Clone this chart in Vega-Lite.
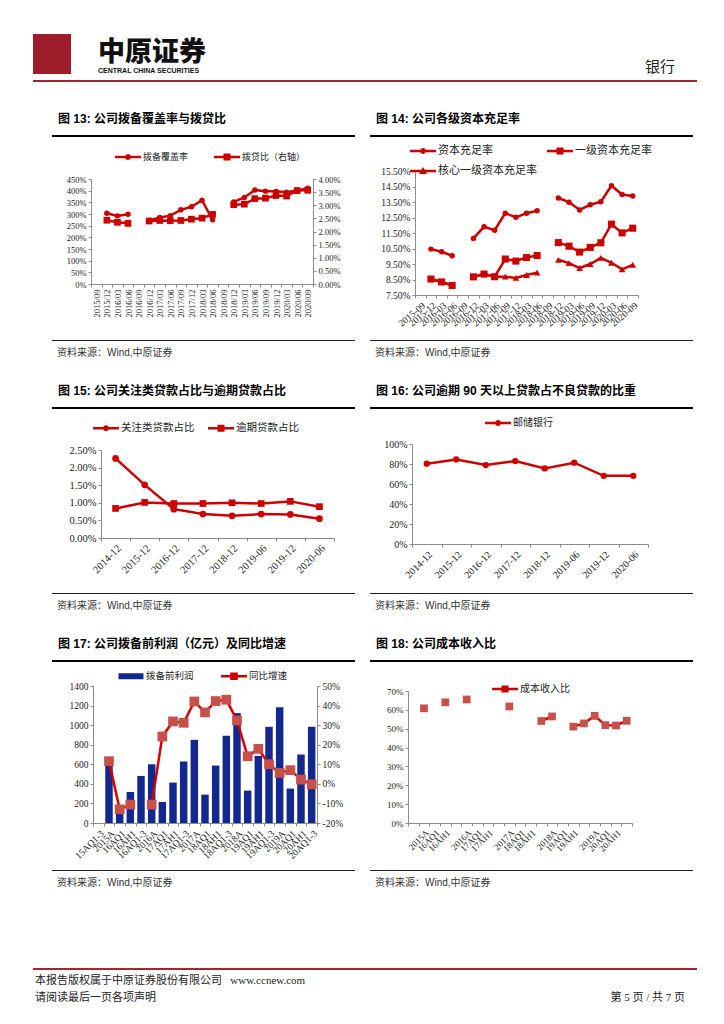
{
  "$schema": "https://vega.github.io/schema/vega-lite/v6.json",
  "padding": {"left": 33, "top": 28, "right": 0, "bottom": 0},
  "datasets": {
    "blank": [{}],
    "c13": [
      {"d": "2015/09", "拨备覆盖率": null, "拨贷比（右轴）": null},
      {"d": "2015/12", "拨备覆盖率": 303, "拨贷比（右轴）": 2.43},
      {"d": "2016/03", "拨备覆盖率": 292, "拨贷比（右轴）": 2.35},
      {"d": "2016/06", "拨备覆盖率": 299, "拨贷比（右轴）": 2.31},
      {"d": "2016/09", "拨备覆盖率": null, "拨贷比（右轴）": null},
      {"d": "2016/12", "拨备覆盖率": 272, "拨贷比（右轴）": 2.40},
      {"d": "2017/03", "拨备覆盖率": 285, "拨贷比（右轴）": 2.42},
      {"d": "2017/06", "拨备覆盖率": 293, "拨贷比（右轴）": 2.41},
      {"d": "2017/09", "拨备覆盖率": 318, "拨贷比（右轴）": 2.42},
      {"d": "2017/12", "拨备覆盖率": 331, "拨贷比（右轴）": 2.47},
      {"d": "2018/03", "拨备覆盖率": 359, "拨贷比（右轴）": 2.51},
      {"d": "2018/06", "拨备覆盖率": 275, "拨贷比（右轴）": 2.65},
      {"d": "2018/09", "拨备覆盖率": null, "拨贷比（右轴）": null},
      {"d": "2018/12", "拨备覆盖率": 352, "拨贷比（右轴）": 3.02},
      {"d": "2019/03", "拨备覆盖率": 371, "拨贷比（右轴）": 3.04},
      {"d": "2019/06", "拨备覆盖率": 403, "拨贷比（右轴）": 3.25},
      {"d": "2019/09", "拨备覆盖率": 398, "拨贷比（右轴）": 3.27},
      {"d": "2019/12", "拨备覆盖率": 397, "拨贷比（右轴）": 3.37},
      {"d": "2020/03", "拨备覆盖率": 393, "拨贷比（右轴）": 3.35},
      {"d": "2020/06", "拨备覆盖率": 401, "拨贷比（右轴）": 3.56},
      {"d": "2020/09", "拨备覆盖率": 410, "拨贷比（右轴）": 3.57}
    ],
    "c14": [
      {"d": "2015-09", "资本充足率": null, "一级资本充足率": null, "核心一级资本充足率": null},
      {"d": "2015-12", "资本充足率": 10.46, "一级资本充足率": 8.53, "核心一级资本充足率": 8.53},
      {"d": "2016-03", "资本充足率": 10.29, "一级资本充足率": 8.34, "核心一级资本充足率": 8.34},
      {"d": "2016-06", "资本充足率": 10.03, "一级资本充足率": 8.12, "核心一级资本充足率": 8.12},
      {"d": "2016-09", "资本充足率": null, "一级资本充足率": null, "核心一级资本充足率": null},
      {"d": "2016-12", "资本充足率": 11.15, "一级资本充足率": 8.67, "核心一级资本充足率": 8.67},
      {"d": "2017-03", "资本充足率": 11.90, "一级资本充足率": 8.85, "核心一级资本充足率": 8.85},
      {"d": "2017-06", "资本充足率": 11.68, "一级资本充足率": 8.68, "核心一级资本充足率": 8.68},
      {"d": "2017-09", "资本充足率": 12.78, "一级资本充足率": 9.82, "核心一级资本充足率": 8.68},
      {"d": "2017-12", "资本充足率": 12.51, "一级资本充足率": 9.69, "核心一级资本充足率": 8.60},
      {"d": "2018-03", "资本充足率": 12.78, "一级资本充足率": 9.92, "核心一级资本充足率": 8.79},
      {"d": "2018-06", "资本充足率": 12.93, "一级资本充足率": 10.05, "核心一级资本充足率": 8.94},
      {"d": "2018-09", "资本充足率": null, "一级资本充足率": null, "核心一级资本充足率": null},
      {"d": "2018-12", "资本充足率": 13.76, "一级资本充足率": 10.88, "核心一级资本充足率": 9.77},
      {"d": "2019-03", "资本充足率": 13.49, "一级资本充足率": 10.65, "核心一级资本充足率": 9.56},
      {"d": "2019-06", "资本充足率": 12.99, "一级资本充足率": 10.27, "核心一级资本充足率": 9.24},
      {"d": "2019-09", "资本充足率": 13.32, "一级资本充足率": 10.57, "核心一级资本充足率": 9.50},
      {"d": "2019-12", "资本充足率": 13.52, "一级资本充足率": 10.87, "核心一级资本充足率": 9.90},
      {"d": "2020-03", "资本充足率": 14.55, "一级资本充足率": 12.07, "核心一级资本充足率": 9.58},
      {"d": "2020-06", "资本充足率": 13.98, "一级资本充足率": 11.51, "核心一级资本充足率": 9.15},
      {"d": "2020-09", "资本充足率": 13.89, "一级资本充足率": 11.81, "核心一级资本充足率": 9.45}
    ],
    "c15": [
      {"d": "2014-12", "关注类贷款占比": 2.26, "逾期贷款占比": 0.84},
      {"d": "2015-12", "关注类贷款占比": 1.51, "逾期贷款占比": 1.01},
      {"d": "2016-12", "关注类贷款占比": 0.82, "逾期贷款占比": 0.98},
      {"d": "2017-12", "关注类贷款占比": 0.68, "逾期贷款占比": 0.98},
      {"d": "2018-12", "关注类贷款占比": 0.63, "逾期贷款占比": 1.00},
      {"d": "2019-06", "关注类贷款占比": 0.68, "逾期贷款占比": 0.98},
      {"d": "2019-12", "关注类贷款占比": 0.67, "逾期贷款占比": 1.04},
      {"d": "2020-06", "关注类贷款占比": 0.55, "逾期贷款占比": 0.89}
    ],
    "c16": [
      {"d": "2014-12", "邮储银行": 80.3},
      {"d": "2015-12", "邮储银行": 84.6},
      {"d": "2016-12", "邮储银行": 78.9},
      {"d": "2017-12", "邮储银行": 82.9},
      {"d": "2018-12", "邮储银行": 75.6},
      {"d": "2019-06", "邮储银行": 81.3},
      {"d": "2019-12", "邮储银行": 68.2},
      {"d": "2020-06", "邮储银行": 68.2}
    ],
    "c17": [
      {"d": "15AQ1-3", "拨备前利润": null, "同比增速": null},
      {"d": "2015A", "拨备前利润": 610, "同比增速": 11.6},
      {"d": "16AQ1", "拨备前利润": 150, "同比增速": -13.0},
      {"d": "16AH1", "拨备前利润": 317, "同比增速": -10.6},
      {"d": "16AQ1-3", "拨备前利润": 481, "同比增速": null},
      {"d": "2016A", "拨备前利润": 600, "同比增速": -10.6},
      {"d": "17AQ1", "拨备前利润": 215, "同比增速": 24.2},
      {"d": "17AH1", "拨备前利润": 413, "同比增速": 31.9},
      {"d": "17AQ1-3", "拨备前利润": 628, "同比增速": 31.2},
      {"d": "2017A", "拨备前利润": 850, "同比增速": 42.1},
      {"d": "18AQ1", "拨备前利润": 290, "同比增速": 36.5},
      {"d": "18AH1", "拨备前利润": 587, "同比增速": 42.3},
      {"d": "18AQ1-3", "拨备前利润": 891, "同比增速": 43.0},
      {"d": "2018A", "拨备前利润": 1123, "同比增速": 32.4},
      {"d": "19AQ1", "拨备前利润": 331, "同比增速": 14.1},
      {"d": "19AH1", "拨备前利润": 686, "同比增速": 17.9},
      {"d": "19AQ1-3", "拨备前利润": 983, "同比增速": 10.0},
      {"d": "2019A", "拨备前利润": 1184, "同比增速": 5.6},
      {"d": "20AQ1", "拨备前利润": 352, "同比增速": 7.0},
      {"d": "20AH1", "拨备前利润": 700, "同比增速": 2.2},
      {"d": "20AQ1-3", "拨备前利润": 983, "同比增速": -0.2}
    ],
    "c18": [
      {"d": "15AQ1-3", "成本收入比": null},
      {"d": "2015A", "成本收入比": 60.8},
      {"d": "16AQ1", "成本收入比": null},
      {"d": "16AH1", "成本收入比": 64.0},
      {"d": "16AQ1-3", "成本收入比": null},
      {"d": "2016A", "成本收入比": 65.5},
      {"d": "17AQ1", "成本收入比": null},
      {"d": "17AH1", "成本收入比": null},
      {"d": "17AQ1-3", "成本收入比": null},
      {"d": "2017A", "成本收入比": 61.8},
      {"d": "18AQ1", "成本收入比": null},
      {"d": "18AH1", "成本收入比": null},
      {"d": "18AQ1-3", "成本收入比": 54.1},
      {"d": "2018A", "成本收入比": 56.5},
      {"d": "19AQ1", "成本收入比": null},
      {"d": "19AH1", "成本收入比": 51.1},
      {"d": "19AQ1-3", "成本收入比": 52.8},
      {"d": "2019A", "成本收入比": 56.8},
      {"d": "20AQ1", "成本收入比": 51.9},
      {"d": "20AH1", "成本收入比": 51.7},
      {"d": "20AQ1-3", "成本收入比": 54.2}
    ]
  },
  "vconcat": [
    {
      "vconcat": [
        {
          "vconcat": [
            {
              "hconcat": [
                {"width": 38, "height": 40, "view": {"fill": "#9e1d2b", "stroke": null}, "data": {"name": "blank"}, "mark": {"type": "text", "text": ""}},
                {"width": 400, "height": 1, "view": {"stroke": null},
                 "title": {"text": "中原证券", "subtitle": "CENTRAL CHINA SECURITIES", "orient": "bottom", "anchor": "start", "dx": 17, "font": "Noto Sans CJK SC", "fontSize": 27, "fontWeight": 900, "color": "#111111", "subtitleFont": "Liberation Sans", "subtitleFontSize": 7, "subtitleFontWeight": "bold", "subtitleColor": "#111111", "subtitlePadding": 0, "offset": 0},
                 "data": {"name": "blank"}, "mark": {"type": "text", "text": ""}},
                {"width": 221, "height": 1, "view": {"stroke": null},
                 "title": {"text": "银行", "orient": "bottom", "anchor": "end", "dx": -37, "offset": 20, "font": "Noto Sans CJK SC", "fontSize": 15, "fontWeight": "normal", "color": "#222222"},
                 "data": {"name": "blank"}, "mark": {"type": "text", "text": ""}}
              ],
              "spacing": 10
            },
            {"width": 664, "height": 2, "view": {"fill": "#a3262b", "stroke": null}, "data": {"name": "blank"}, "mark": {"type": "text", "text": ""}}
          ],
          "spacing": 0
        },
        {
          "vconcat": [
            {"hconcat": [
              {"width": 303, "height": 2, "view": {"fill": "#000000", "stroke": null}, "title": {"text": "图 13: 公司拨备覆盖率与拨贷比", "dx": 6, "offset": 4}, "data": {"name": "blank"}, "mark": {"type": "text", "text": ""}},
              {"width": 323, "height": 2, "view": {"fill": "#000000", "stroke": null}, "title": {"text": "图 14: 公司各级资本充足率", "dx": 6, "offset": 4}, "data": {"name": "blank"}, "mark": {"type": "text", "text": ""}}
            ], "spacing": 15},
            {"hconcat": [
              {
                "width": 303, "height": 113,
                "data": {"name": "c13"},
                "encoding": {"x": {"field": "d", "type": "nominal", "scale": {"type": "band", "domain": ["2015/09","2015/12","2016/03","2016/06","2016/09","2016/12","2017/03","2017/06","2017/09","2017/12","2018/03","2018/06","2018/09","2018/12","2019/03","2019/06","2019/09","2019/12","2020/03","2020/06","2020/09"], "range": [39, 261], "paddingInner": 0, "paddingOuter": 0}, "axis": {"title": null, "labelAngle": -90, "tickBand": "extent", "labelFontSize": 8.5, "minExtent": 50, "labelOverlap": false}}},
                "layer": [
                  {"encoding": {"y": {"field": "拨备覆盖率", "type": "quantitative", "scale": {"domain": [0, 450], "nice": false, "range": [113, 8]}, "axis": {"title": null, "offset": -39, "values": [0,50,100,150,200,250,300,350,400,450], "labelExpr": "datum.value + '%'", "labelFontSize": 8.5, "labelOverlap": false}}},
                   "layer": [
                     {"mark": {"type": "line", "color": "#cc0000", "strokeWidth": 2.5, "invalid": "break-paths-filter-domains"}},
                     {"mark": {"type": "point", "shape": "circle", "filled": true, "opacity": 1, "color": "#cc0000", "size": 30}}
                   ]},
                  {"encoding": {"y": {"field": "拨贷比（右轴）", "type": "quantitative", "scale": {"domain": [0, 4], "nice": false, "range": [113, 8]}, "axis": {"title": null, "orient": "right", "offset": -42, "values": [0,0.5,1,1.5,2,2.5,3,3.5,4], "labelExpr": "format(datum.value, '.2f') + '%'", "labelFontSize": 8.5, "labelOverlap": false}}},
                   "layer": [
                     {"mark": {"type": "line", "color": "#cc0000", "strokeWidth": 2.5, "invalid": "break-paths-filter-domains"}},
                     {"mark": {"type": "point", "shape": "square", "filled": true, "opacity": 1, "color": "#cc0000", "size": 45}}
                   ]},
                  {"transform": [{"fold": ["拨备覆盖率", "拨贷比（右轴）"], "as": ["s", "v"]}],
                   "mark": {"type": "point", "filled": true, "opacity": 0},
                   "encoding": {
                     "shape": {"field": "s", "type": "nominal", "scale": {"domain": ["拨备覆盖率", "拨贷比（右轴）"], "range": ["M-1.3,-0.13H1.3V0.13H-1.3Z M0.3,0A0.3,0.3,0,1,1,-0.3,0A0.3,0.3,0,1,1,0.3,0Z", "M-1.3,-0.13H1.3V0.13H-1.3Z M-0.35,-0.35H0.35V0.35H-0.35Z"]}, "legend": {"title": null, "orient": "none", "legendX": 66, "legendY": -24, "direction": "horizontal", "symbolSize": 400, "symbolOpacity": 1, "symbolStrokeWidth": 0, "labelOffset": 5, "labelFontSize": 9, "columnPadding": 25, "padding": 0}},
                     "color": {"field": "s", "type": "nominal", "scale": {"domain": ["拨备覆盖率", "拨贷比（右轴）"], "range": ["#cc0000", "#cc0000"]}, "legend": {"title": null, "orient": "none", "legendX": 66, "legendY": -24, "direction": "horizontal", "symbolSize": 400, "symbolOpacity": 1, "symbolStrokeWidth": 0, "labelOffset": 5, "labelFontSize": 9, "columnPadding": 25, "padding": 0}}
                   }}
                ],
                "resolve": {"scale": {"y": "independent"}}
              },
              {
                "width": 323, "height": 124,
                "data": {"name": "c14"},
                "encoding": {
                  "x": {"field": "d", "type": "nominal", "scale": {"type": "band", "domain": ["2015-09","2015-12","2016-03","2016-06","2016-09","2016-12","2017-03","2017-06","2017-09","2017-12","2018-03","2018-06","2018-09","2018-12","2019-03","2019-06","2019-09","2019-12","2020-03","2020-06","2020-09"], "range": [45, 268], "paddingInner": 0, "paddingOuter": 0}, "axis": {"title": null, "labelAngle": -40, "tickBand": "extent", "labelFontSize": 9.5, "minExtent": 39, "labelOverlap": false}}
                },
                "layer": [
                  {"encoding": {"y": {"field": "核心一级资本充足率", "type": "quantitative", "scale": {"domain": [7.5, 15.5], "nice": false, "zero": false}, "axis": {"title": null, "offset": -45, "values": [7.5,8.5,9.5,10.5,11.5,12.5,13.5,14.5,15.5], "labelExpr": "format(datum.value, '.2f') + '%'", "labelFontSize": 9.5, "labelOverlap": false}}},
                   "layer": [
                     {"mark": {"type": "line", "color": "#cc0000", "strokeWidth": 2.5, "invalid": "break-paths-filter-domains"}},
                     {"mark": {"type": "point", "shape": "triangle-up", "filled": true, "opacity": 1, "color": "#cc0000", "size": 45}}
                   ]},
                  {"encoding": {"y": {"field": "一级资本充足率", "type": "quantitative", "axis": {"title": null, "offset": -45, "values": [7.5,8.5,9.5,10.5,11.5,12.5,13.5,14.5,15.5], "labelExpr": "format(datum.value, '.2f') + '%'", "labelFontSize": 9.5, "labelOverlap": false}}},
                   "layer": [
                     {"mark": {"type": "line", "color": "#cc0000", "strokeWidth": 2.5, "invalid": "break-paths-filter-domains"}},
                     {"mark": {"type": "point", "shape": "square", "filled": true, "opacity": 1, "color": "#cc0000", "size": 50}}
                   ]},
                  {"encoding": {"y": {"field": "资本充足率", "type": "quantitative", "axis": {"title": null, "offset": -45, "values": [7.5,8.5,9.5,10.5,11.5,12.5,13.5,14.5,15.5], "labelExpr": "format(datum.value, '.2f') + '%'", "labelFontSize": 9.5, "labelOverlap": false}}},
                   "layer": [
                     {"mark": {"type": "line", "color": "#cc0000", "strokeWidth": 2.5, "invalid": "break-paths-filter-domains"}},
                     {"mark": {"type": "point", "shape": "circle", "filled": true, "opacity": 1, "color": "#cc0000", "size": 30}}
                   ]},
                  {"transform": [{"fold": ["资本充足率", "一级资本充足率", "核心一级资本充足率"], "as": ["s", "v"]}],
                   "mark": {"type": "point", "filled": true, "opacity": 0},
                   "encoding": {
                     "y": {"value": 0},
                     "shape": {"field": "s", "type": "nominal", "scale": {"domain": ["资本充足率", "一级资本充足率", "核心一级资本充足率"], "range": ["M-1.3,-0.13H1.3V0.13H-1.3Z M0.3,0A0.3,0.3,0,1,1,-0.3,0A0.3,0.3,0,1,1,0.3,0Z", "M-1.3,-0.13H1.3V0.13H-1.3Z M-0.35,-0.35H0.35V0.35H-0.35Z", "M-1.3,-0.13H1.3V0.13H-1.3Z M0,-0.4L0.4,0.3L-0.4,0.3Z"]}, "legend": {"title": null, "orient": "none", "legendX": 43, "legendY": -30, "direction": "horizontal", "columns": 2, "symbolSize": 400, "symbolOpacity": 1, "symbolStrokeWidth": 0, "labelOffset": 5, "labelFontSize": 11, "columnPadding": 10, "rowPadding": 5, "padding": 0}},
                     "color": {"field": "s", "type": "nominal", "scale": {"domain": ["资本充足率", "一级资本充足率", "核心一级资本充足率"], "range": ["#cc0000", "#cc0000", "#cc0000"]}, "legend": {"title": null, "orient": "none", "legendX": 43, "legendY": -30, "direction": "horizontal", "columns": 2, "symbolSize": 400, "symbolOpacity": 1, "symbolStrokeWidth": 0, "labelOffset": 5, "labelFontSize": 11, "columnPadding": 10, "rowPadding": 5, "padding": 0}}
                   }}
                ]
              }
            ], "spacing": 15, "resolve": {"scale": {"color": "independent", "shape": "independent"}, "legend": {"color": "independent", "shape": "independent"}}},
            {"hconcat": [
              {"width": 303, "height": 1, "view": {"fill": "#222222", "stroke": null}, "title": {"text": "资料来源：Wind,中原证券", "orient": "bottom", "dx": 5, "offset": 2, "fontSize": 10, "fontWeight": "normal", "color": "#333333"}, "data": {"name": "blank"}, "mark": {"type": "text", "text": ""}},
              {"width": 323, "height": 1, "view": {"fill": "#222222", "stroke": null}, "title": {"text": "资料来源：Wind,中原证券", "orient": "bottom", "dx": 5, "offset": 2, "fontSize": 10, "fontWeight": "normal", "color": "#333333"}, "data": {"name": "blank"}, "mark": {"type": "text", "text": ""}}
            ], "spacing": 15}
          ],
          "spacing": 0,
          "resolve": {"scale": {"color": "independent", "shape": "independent"}, "legend": {"color": "independent", "shape": "independent"}}
        },
        {
          "vconcat": [
            {"hconcat": [
              {"width": 303, "height": 2, "view": {"fill": "#000000", "stroke": null}, "title": {"text": "图 15: 公司关注类贷款占比与逾期贷款占比", "dx": 6, "offset": 4}, "data": {"name": "blank"}, "mark": {"type": "text", "text": ""}},
              {"width": 323, "height": 2, "view": {"fill": "#000000", "stroke": null}, "title": {"text": "图 16: 公司逾期 90 天以上贷款占不良贷款的比重", "dx": 6, "offset": 4}, "data": {"name": "blank"}, "mark": {"type": "text", "text": ""}}
            ], "spacing": 15},
            {"hconcat": [
              {
                "width": 303, "height": 94,
                "data": {"name": "c15"},
                "encoding": {
                  "x": {"field": "d", "type": "nominal", "scale": {"type": "band", "domain": ["2014-12","2015-12","2016-12","2017-12","2018-12","2019-06","2019-12","2020-06"], "range": [49, 282], "paddingInner": 0, "paddingOuter": 0}, "axis": {"title": null, "labelAngle": -45, "tickBand": "extent", "labelFontSize": 10.5, "minExtent": 49, "labelOverlap": false}}
                },
                "layer": [
                  {"encoding": {"y": {"field": "关注类贷款占比", "type": "quantitative", "scale": {"domain": [0, 2.5], "nice": false, "range": [94, 6]}, "axis": {"title": null, "offset": -49, "values": [0,0.5,1,1.5,2,2.5], "labelExpr": "format(datum.value, '.2f') + '%'", "labelFontSize": 10.5, "labelOverlap": false}}},
                   "layer": [
                     {"mark": {"type": "line", "color": "#cc0000", "strokeWidth": 2.5}},
                     {"mark": {"type": "point", "shape": "circle", "filled": true, "opacity": 1, "color": "#cc0000", "size": 45}}
                   ]},
                  {"encoding": {"y": {"field": "逾期贷款占比", "type": "quantitative", "axis": {"title": null, "offset": -49, "values": [0,0.5,1,1.5,2,2.5], "labelExpr": "format(datum.value, '.2f') + '%'", "labelFontSize": 10.5, "labelOverlap": false}}},
                   "layer": [
                     {"mark": {"type": "line", "color": "#cc0000", "strokeWidth": 2.5}},
                     {"mark": {"type": "point", "shape": "square", "filled": true, "opacity": 1, "color": "#cc0000", "size": 45}}
                   ]},
                  {"transform": [{"fold": ["关注类贷款占比", "逾期贷款占比"], "as": ["s", "v"]}],
                   "mark": {"type": "point", "filled": true, "opacity": 0},
                   "encoding": {
                     "y": {"value": 0},
                     "shape": {"field": "s", "type": "nominal", "scale": {"domain": ["关注类贷款占比", "逾期贷款占比"], "range": ["M-1.3,-0.13H1.3V0.13H-1.3Z M0.3,0A0.3,0.3,0,1,1,-0.3,0A0.3,0.3,0,1,1,0.3,0Z", "M-1.3,-0.13H1.3V0.13H-1.3Z M-0.35,-0.35H0.35V0.35H-0.35Z"]}, "legend": {"title": null, "orient": "none", "legendX": 44, "legendY": -26, "direction": "horizontal", "symbolSize": 400, "symbolOpacity": 1, "symbolStrokeWidth": 0, "labelOffset": 5, "labelFontSize": 10.5, "columnPadding": 13, "padding": 0}},
                     "color": {"field": "s", "type": "nominal", "scale": {"domain": ["关注类贷款占比", "逾期贷款占比"], "range": ["#cc0000", "#cc0000"]}, "legend": {"title": null, "orient": "none", "legendX": 44, "legendY": -26, "direction": "horizontal", "symbolSize": 400, "symbolOpacity": 1, "symbolStrokeWidth": 0, "labelOffset": 5, "labelFontSize": 10.5, "columnPadding": 13, "padding": 0}}
                   }}
                ]
              },
              {
                "width": 323, "height": 100,
                "data": {"name": "c16"},
                "encoding": {
                  "x": {"field": "d", "type": "nominal", "scale": {"type": "band", "domain": ["2014-12","2015-12","2016-12","2017-12","2018-12","2019-06","2019-12","2020-06"], "range": [42, 278], "paddingInner": 0, "paddingOuter": 0}, "axis": {"title": null, "labelAngle": -45, "tickBand": "extent", "labelFontSize": 10, "minExtent": 43, "labelOverlap": false}}
                },
                "layer": [
                  {"encoding": {"y": {"field": "邮储银行", "type": "quantitative", "scale": {"domain": [0, 100], "nice": false}, "axis": {"title": null, "offset": -42, "values": [0,20,40,60,80,100], "labelExpr": "datum.value + '%'", "labelFontSize": 10, "labelOverlap": false}}},
                   "layer": [
                     {"mark": {"type": "line", "color": "#cc0000", "strokeWidth": 2.5}},
                     {"mark": {"type": "point", "shape": "circle", "filled": true, "opacity": 1, "color": "#cc0000", "size": 40}}
                   ]},
                  {"transform": [{"fold": ["邮储银行"], "as": ["s", "v"]}],
                   "mark": {"type": "point", "filled": true, "opacity": 0},
                   "encoding": {
                     "y": {"value": 0},
                     "shape": {"field": "s", "type": "nominal", "scale": {"domain": ["邮储银行"], "range": ["M-1.3,-0.13H1.3V0.13H-1.3Z M0.3,0A0.3,0.3,0,1,1,-0.3,0A0.3,0.3,0,1,1,0.3,0Z"]}, "legend": {"title": null, "orient": "none", "legendX": 118, "legendY": -31, "direction": "horizontal", "symbolSize": 400, "symbolOpacity": 1, "symbolStrokeWidth": 0, "labelOffset": 5, "labelFontSize": 10, "padding": 0}},
                     "color": {"field": "s", "type": "nominal", "scale": {"domain": ["邮储银行"], "range": ["#cc0000"]}, "legend": {"title": null, "orient": "none", "legendX": 118, "legendY": -31, "direction": "horizontal", "symbolSize": 400, "symbolOpacity": 1, "symbolStrokeWidth": 0, "labelOffset": 5, "labelFontSize": 10, "padding": 0}}
                   }}
                ]
              }
            ], "spacing": 15, "resolve": {"scale": {"color": "independent", "shape": "independent"}, "legend": {"color": "independent", "shape": "independent"}}},
            {"hconcat": [
              {"width": 303, "height": 1, "view": {"fill": "#222222", "stroke": null}, "title": {"text": "资料来源：Wind,中原证券", "orient": "bottom", "dx": 5, "offset": 2, "fontSize": 10, "fontWeight": "normal", "color": "#333333"}, "data": {"name": "blank"}, "mark": {"type": "text", "text": ""}},
              {"width": 323, "height": 1, "view": {"fill": "#222222", "stroke": null}, "title": {"text": "资料来源：Wind,中原证券", "orient": "bottom", "dx": 5, "offset": 2, "fontSize": 10, "fontWeight": "normal", "color": "#333333"}, "data": {"name": "blank"}, "mark": {"type": "text", "text": ""}}
            ], "spacing": 15}
          ],
          "spacing": 0,
          "resolve": {"scale": {"color": "independent", "shape": "independent"}, "legend": {"color": "independent", "shape": "independent"}}
        },
        {
          "vconcat": [
            {"hconcat": [
              {"width": 303, "height": 2, "view": {"fill": "#000000", "stroke": null}, "title": {"text": "图 17: 公司拨备前利润（亿元）及同比增速", "dx": 6, "offset": 4}, "data": {"name": "blank"}, "mark": {"type": "text", "text": ""}},
              {"width": 323, "height": 2, "view": {"fill": "#000000", "stroke": null}, "title": {"text": "图 18: 公司成本收入比", "dx": 6, "offset": 4}, "data": {"name": "blank"}, "mark": {"type": "text", "text": ""}}
            ], "spacing": 15},
            {"hconcat": [
              {
                "width": 303, "height": 137,
                "data": {"name": "c17"},
                "encoding": {
                  "x": {"field": "d", "type": "nominal", "scale": {"type": "band", "domain": ["15AQ1-3","2015A","16AQ1","16AH1","16AQ1-3","2016A","17AQ1","17AH1","17AQ1-3","2017A","18AQ1","18AH1","18AQ1-3","2018A","19AQ1","19AH1","19AQ1-3","2019A","20AQ1","20AH1","20AQ1-3"], "range": [41, 265], "paddingInner": 0, "paddingOuter": 0}, "axis": {"title": null, "labelAngle": -45, "tickBand": "extent", "labelFontSize": 9.5, "minExtent": 41, "labelOverlap": false}}
                },
                "layer": [
                  {"mark": {"type": "bar", "color": "#13288f", "width": {"band": 0.7}},
                   "encoding": {"y": {"field": "拨备前利润", "type": "quantitative", "scale": {"domain": [0, 1400], "nice": false}, "axis": {"title": null, "offset": -41, "values": [0,200,400,600,800,1000,1200,1400], "format": "d", "labelFontSize": 9.5, "labelOverlap": false}}}},
                  {"encoding": {"y": {"field": "同比增速", "type": "quantitative", "scale": {"domain": [-20, 50], "nice": false, "zero": false}, "axis": {"title": null, "orient": "right", "offset": -38, "values": [-20,-10,0,10,20,30,40,50], "labelExpr": "datum.value + '%'", "labelFontSize": 9.5, "labelOverlap": false}}},
                   "layer": [
                     {"mark": {"type": "line", "color": "#d40000", "strokeWidth": 2.5, "invalid": "break-paths-filter-domains"}},
                     {"mark": {"type": "point", "shape": "square", "filled": true, "opacity": 1, "color": "#c8504b", "size": 95}}
                   ]},
                  {"transform": [{"fold": ["拨备前利润", "同比增速"], "as": ["s", "v"]}],
                   "mark": {"type": "point", "filled": true, "opacity": 0},
                   "encoding": {
                     "shape": {"field": "s", "type": "nominal", "scale": {"domain": ["拨备前利润", "同比增速"], "range": ["M-1.25,-0.3H1.25V0.3H-1.25Z", "M-1.3,-0.13H1.3V0.13H-1.3Z M-0.38,-0.38H0.38V0.38H-0.38Z"]}, "legend": {"title": null, "orient": "none", "legendX": 69, "legendY": -20, "direction": "horizontal", "symbolSize": 400, "symbolOpacity": 1, "symbolStrokeWidth": 0, "labelOffset": 5, "labelFontSize": 9.5, "columnPadding": 27, "padding": 0}},
                     "color": {"field": "s", "type": "nominal", "scale": {"domain": ["拨备前利润", "同比增速"], "range": ["#13288f", "#cc0000"]}, "legend": {"title": null, "orient": "none", "legendX": 69, "legendY": -20, "direction": "horizontal", "symbolSize": 400, "symbolOpacity": 1, "symbolStrokeWidth": 0, "labelOffset": 5, "labelFontSize": 9.5, "columnPadding": 27, "padding": 0}}
                   }}
                ],
                "resolve": {"scale": {"y": "independent"}}
              },
              {
                "width": 323, "height": 137,
                "data": {"name": "c18"},
                "encoding": {
                  "x": {"field": "d", "type": "nominal", "scale": {"type": "band", "domain": ["15AQ1-3","2015A","16AQ1","16AH1","16AQ1-3","2016A","17AQ1","17AH1","17AQ1-3","2017A","18AQ1","18AH1","18AQ1-3","2018A","19AQ1","19AH1","19AQ1-3","2019A","20AQ1","20AH1","20AQ1-3"], "range": [38, 262], "paddingInner": 0, "paddingOuter": 0}, "axis": {"title": null, "labelAngle": -45, "tickBand": "extent", "labelFontSize": 9, "minExtent": 41, "labelOverlap": false, "labelExpr": "test(/Q1-3/, datum.value) ? '' : datum.value"}}
                },
                "layer": [
                  {"encoding": {"y": {"field": "成本收入比", "type": "quantitative", "scale": {"domain": [0, 70], "nice": false, "range": [137, 5]}, "axis": {"title": null, "offset": -38, "values": [0,10,20,30,40,50,60,70], "labelExpr": "datum.value + '%'", "labelFontSize": 9, "labelOverlap": false}}},
                   "layer": [
                     {"mark": {"type": "line", "color": "#d40000", "strokeWidth": 2.5, "invalid": "break-paths-filter-domains"}},
                     {"mark": {"type": "point", "shape": "square", "filled": true, "opacity": 1, "color": "#c8504b", "size": 60}}
                   ]},
                  {"transform": [{"fold": ["成本收入比"], "as": ["s", "v"]}],
                   "mark": {"type": "point", "filled": true, "opacity": 0},
                   "encoding": {
                     "y": {"value": 0},
                     "shape": {"field": "s", "type": "nominal", "scale": {"domain": ["成本收入比"], "range": ["M-1.3,-0.13H1.3V0.13H-1.3Z M-0.35,-0.35H0.35V0.35H-0.35Z"]}, "legend": {"title": null, "orient": "none", "legendX": 125, "legendY": -7, "direction": "horizontal", "symbolSize": 400, "symbolOpacity": 1, "symbolStrokeWidth": 0, "labelOffset": 5, "labelFontSize": 10, "padding": 0}},
                     "color": {"field": "s", "type": "nominal", "scale": {"domain": ["成本收入比"], "range": ["#cc0000"]}, "legend": {"title": null, "orient": "none", "legendX": 125, "legendY": -7, "direction": "horizontal", "symbolSize": 400, "symbolOpacity": 1, "symbolStrokeWidth": 0, "labelOffset": 5, "labelFontSize": 10, "padding": 0}}
                   }}
                ]
              }
            ], "spacing": 15, "resolve": {"scale": {"color": "independent", "shape": "independent"}, "legend": {"color": "independent", "shape": "independent"}}},
            {"hconcat": [
              {"width": 303, "height": 1, "view": {"fill": "#222222", "stroke": null}, "title": {"text": "资料来源：Wind,中原证券", "orient": "bottom", "dx": 5, "offset": 2, "fontSize": 10, "fontWeight": "normal", "color": "#333333"}, "data": {"name": "blank"}, "mark": {"type": "text", "text": ""}},
              {"width": 323, "height": 1, "view": {"fill": "#222222", "stroke": null}, "title": {"text": "资料来源：Wind,中原证券", "orient": "bottom", "dx": 5, "offset": 2, "fontSize": 10, "fontWeight": "normal", "color": "#333333"}, "data": {"name": "blank"}, "mark": {"type": "text", "text": ""}}
            ], "spacing": 15}
          ],
          "spacing": 0,
          "resolve": {"scale": {"color": "independent", "shape": "independent"}, "legend": {"color": "independent", "shape": "independent"}}
        }
      ],
      "spacing": 27,
      "center": true,
      "resolve": {"scale": {"color": "independent", "shape": "independent"}, "legend": {"color": "independent", "shape": "independent"}}
    },
    {
      "vconcat": [
        {"width": 664, "height": 2, "view": {"fill": "#a3262b", "stroke": null}, "data": {"name": "blank"}, "mark": {"type": "text", "text": ""}},
        {"hconcat": [
          {"width": 400, "height": 1, "view": {"stroke": null},
           "title": {"text": ["本报告版权属于中原证券股份有限公司\u00a0\u00a0\u00a0www.ccnew.com", "请阅读最后一页各项声明"], "orient": "bottom", "anchor": "start", "dx": 2, "offset": -12, "font": "Liberation Serif, Noto Sans CJK SC", "fontSize": 11, "fontWeight": "normal", "lineHeight": 17, "color": "#222222"},
           "data": {"name": "blank"}, "mark": {"type": "text", "text": ""}},
          {"width": 250, "height": 1, "view": {"stroke": null},
           "title": {"text": "第 5 页 / 共 7 页", "orient": "bottom", "anchor": "end", "dx": -12, "offset": 5, "font": "Liberation Serif, Noto Sans CJK SC", "fontSize": 11, "fontWeight": "normal", "color": "#222222"},
           "data": {"name": "blank"}, "mark": {"type": "text", "text": ""}}
        ], "spacing": 14}
      ],
      "spacing": 0
    }
  ],
  "spacing": 75,
  "resolve": {"scale": {"color": "independent", "shape": "independent"}, "legend": {"color": "independent", "shape": "independent"}},
  "config": {
    "view": {"stroke": null},
    "axis": {"labelFont": "Liberation Serif", "labelColor": "#222222", "domainColor": "#8c8c8c", "tickColor": "#8c8c8c", "tickSize": 3, "grid": false, "labelPadding": 2, "domainWidth": 1},
    "title": {"font": "Liberation Sans, Noto Sans CJK SC", "fontSize": 12, "fontWeight": "bold", "color": "#000000", "anchor": "start"},
    "legend": {"labelFont": "Liberation Serif, Noto Sans CJK SC", "labelColor": "#222222"}
  }
}
